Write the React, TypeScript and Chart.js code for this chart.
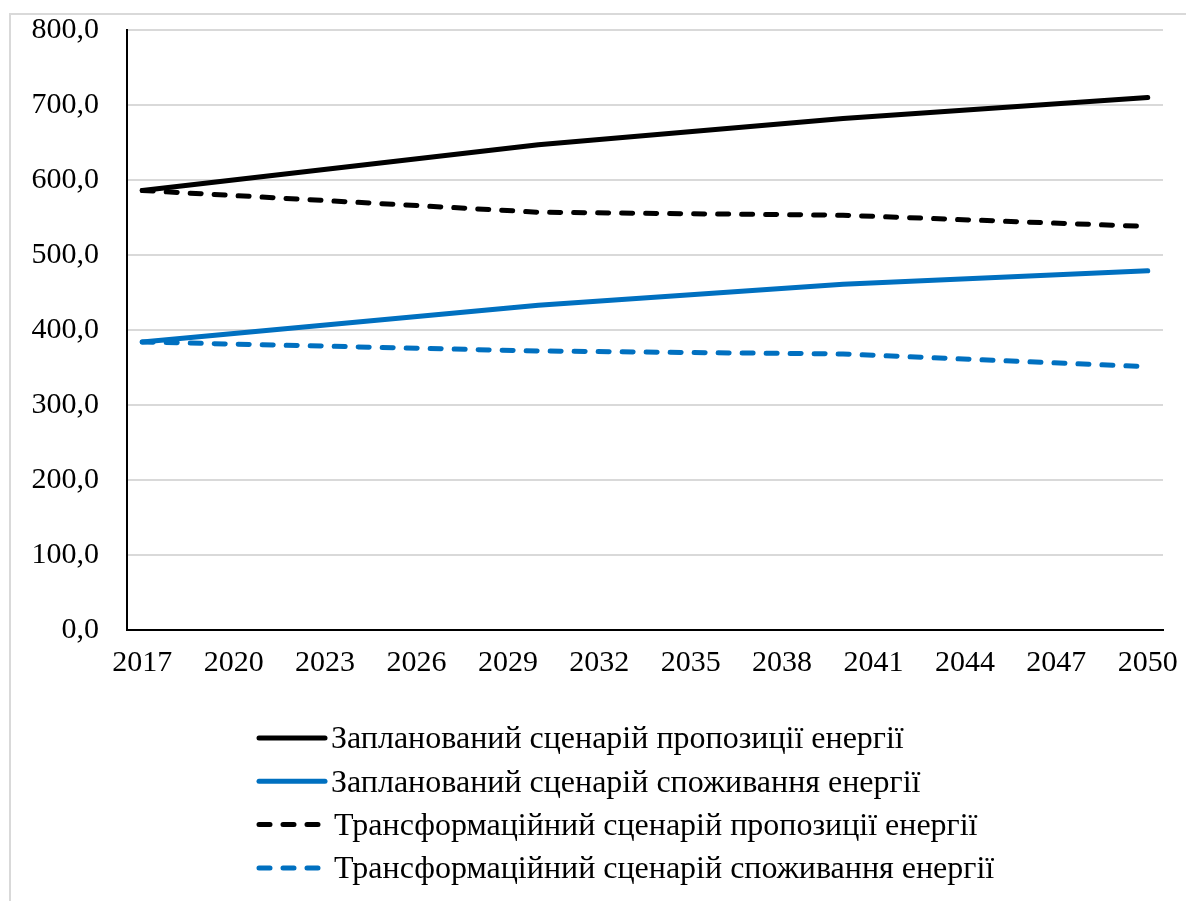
import { useEffect, useRef } from "react";
import { Chart, registerables } from "chart.js";

Chart.register(...registerables);

// Years at which the scenario values are given
const keyYears = [2017, 2030, 2040, 2050];

// Labelled years on the horizontal axis
const tickYears = [2017, 2020, 2023, 2026, 2029, 2032, 2035, 2038, 2041, 2044, 2047, 2050];

// Scenario values
const plannedSupply = [586, 647, 682, 710];
const plannedConsumption = [384, 433, 461, 479];
const transformSupply = [586, 557, 553, 538];
const transformConsumption = [384, 372, 368, 351];

const seriesLabels = [
  "Запланований сценарій пропозиції енергії",
  "Запланований сценарій споживання енергії",
  "Трансформаційний сценарій пропозиції енергії",
  "Трансформаційний сценарій споживання енергії",
];

const FONT = '"Liberation Serif", "Times New Roman", serif';
const BLUE = "#0070C0";
const DASH = [11, 13];

const toPoints = (values: number[]) => keyYears.map((x, i) => ({ x, y: values[i] }));

// White background plus the light frame around the chart
const framePlugin = {
  id: "frame",
  beforeDraw(chart: any) {
    const { ctx, width, height } = chart;
    ctx.save();
    ctx.fillStyle = "#ffffff";
    ctx.fillRect(0, 0, width, height);
    ctx.strokeStyle = "#d9d9d9";
    ctx.lineWidth = 2;
    ctx.beginPath();
    ctx.moveTo(10, height);
    ctx.lineTo(10, 14);
    ctx.lineTo(width, 14);
    ctx.stroke();
    ctx.restore();
  },
};

// Legend stacked in one left-aligned column under the axis
const columnLegend = {
  id: "columnLegend",
  afterDraw(chart: any) {
    const { ctx } = chart;
    ctx.save();
    chart.data.datasets.forEach((ds: any, i: number) => {
      const y = 738 + i * 43.3;
      ctx.strokeStyle = ds.borderColor;
      ctx.lineWidth = 5;
      ctx.lineCap = "round";
      ctx.setLineDash(ds.borderDash || []);
      ctx.beginPath();
      ctx.moveTo(259, y);
      ctx.lineTo(325, y);
      ctx.stroke();
      ctx.setLineDash([]);
      ctx.fillStyle = "#000000";
      ctx.font = `32px ${FONT}`;
      ctx.textBaseline = "middle";
      ctx.textAlign = "left";
      ctx.fillText(ds.label, i < 2 ? 331 : 334, y + 2);
    });
    ctx.restore();
  },
};

export default function App() {
  const canvasRef = useRef<HTMLCanvasElement | null>(null);

  useEffect(() => {
    document.body.style.margin = "0";
    document.body.style.overflow = "hidden";
    const canvas = canvasRef.current;
    if (!canvas) return;

    const line = (label: string, values: number[], color: string, dashed: boolean) => ({
      label,
      data: toPoints(values),
      borderColor: color,
      backgroundColor: color,
      borderWidth: 5,
      borderDash: dashed ? DASH : [],
      borderCapStyle: "round" as const,
      borderJoinStyle: "round" as const,
      pointRadius: 0,
      tension: 0,
      fill: false,
    });

    const chart = new Chart(canvas, {
      type: "line",
      data: {
        datasets: [
          line(seriesLabels[0], plannedSupply, "#000000", false),
          line(seriesLabels[1], plannedConsumption, BLUE, false),
          line(seriesLabels[2], transformSupply, "#000000", true),
          line(seriesLabels[3], transformConsumption, BLUE, true),
        ],
      },
      options: {
        responsive: false,
        animation: false,
        layout: { padding: { left: 0, top: 30, right: 23, bottom: 0 } },
        plugins: {
          legend: { display: false },
          tooltip: { enabled: false },
        },
        scales: {
          x: {
            type: "linear",
            min: 2016.5,
            max: 2050.5,
            afterBuildTicks: (axis: any) => {
              axis.ticks = tickYears.map((value) => ({ value }));
            },
            afterFit: (axis: any) => {
              axis.height = 271;
              axis.paddingLeft = 0;
              axis.paddingRight = 0;
            },
            ticks: {
              autoSkip: false,
              maxRotation: 0,
              padding: 15,
              color: "#000000",
              font: { family: FONT, size: 30 },
              callback: (v: any) => String(v),
            },
            grid: { display: false, drawTicks: false },
            border: { display: true, color: "#000000", width: 2 },
          },
          y: {
            min: 0,
            max: 800,
            afterFit: (axis: any) => {
              axis.width = 127;
              axis.paddingTop = 0;
              axis.paddingBottom = 0;
            },
            ticks: {
              stepSize: 100,
              padding: 28,
              color: "#000000",
              font: { family: FONT, size: 30 },
              callback: (v: any) => Number(v).toFixed(1).replace(".", ","),
            },
            grid: {
              drawTicks: false,
              lineWidth: 2,
              color: (c: any) => (c.tick && c.tick.value === 0 ? "#000000" : "#d9d9d9"),
            },
            border: { display: true, color: "#000000", width: 2 },
          },
        },
      },
      plugins: [framePlugin, columnLegend],
    });

    return () => chart.destroy();
  }, []);

  return (
    <canvas
      ref={canvasRef}
      width={1186}
      height={901}
      style={{ position: "fixed", left: 0, top: 0, display: "block" }}
    />
  );
}
